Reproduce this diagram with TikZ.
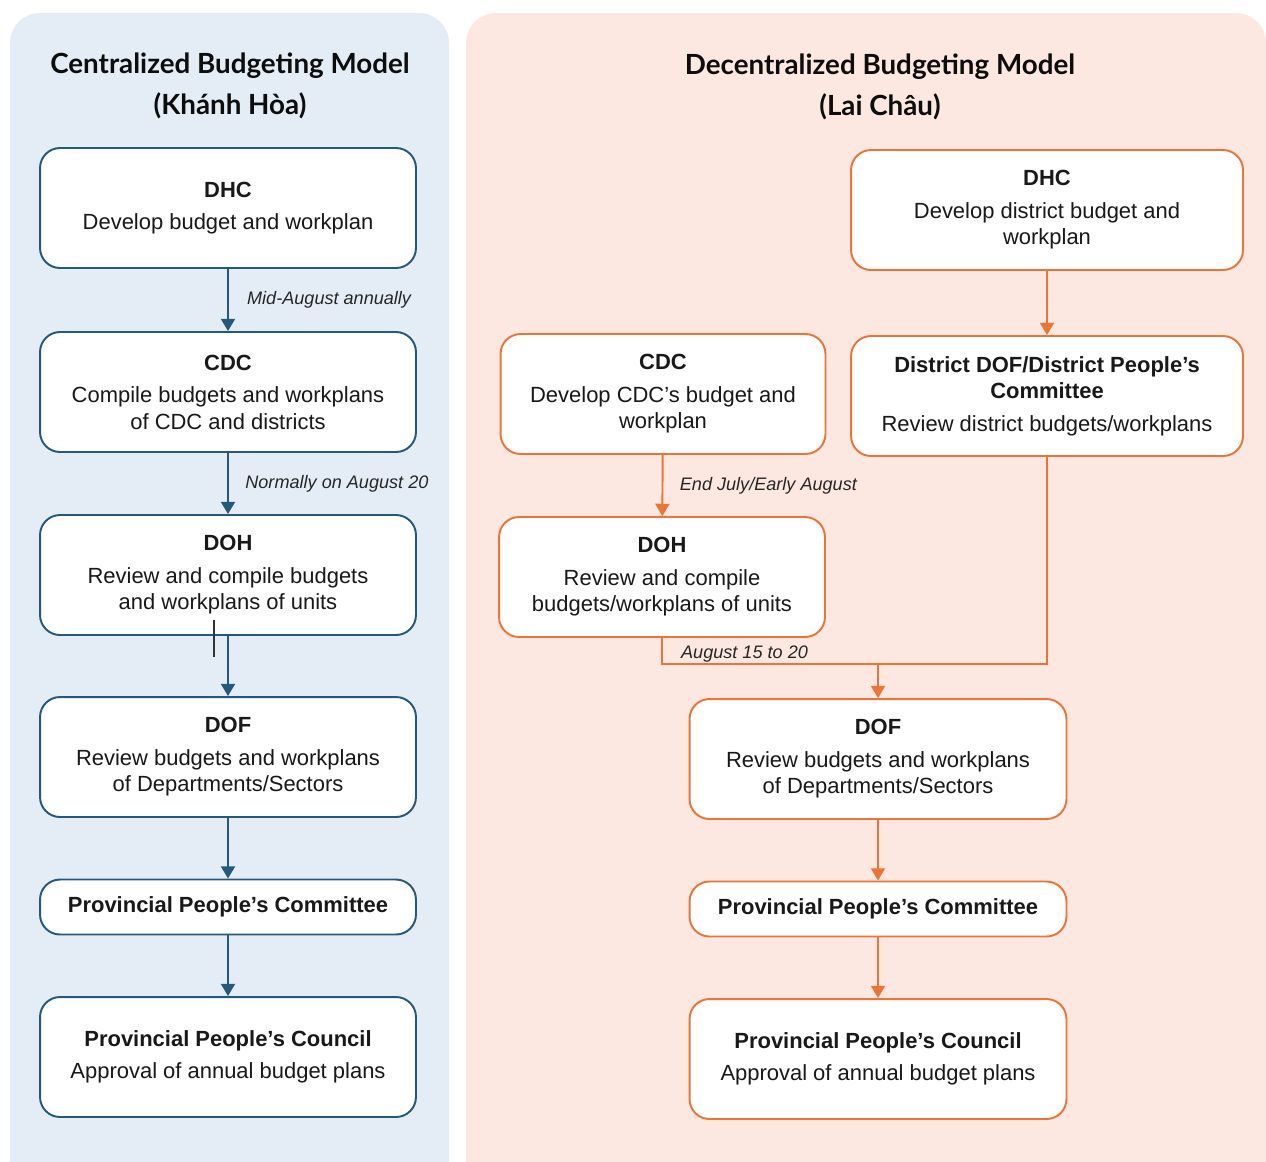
\documentclass[tikz,border=0pt]{standalone}
\usepackage{fontspec}
\setmainfont{Liberation Sans}
\newfontfamily\headfont{Lato}
\usetikzlibrary{arrows.meta,positioning}
\definecolor{bluepanel}{HTML}{E4EDF6}
\definecolor{blueline}{HTML}{22597D}
\definecolor{orangepanel}{HTML}{FCE8E1}
\definecolor{orangeline}{HTML}{EC7535}

\begin{document}
\begin{tikzpicture}[x=0.02cm,y=-0.02cm]
    % Setup the styles for the boxes and arrows
        \tikzset{stage box/.style={draw,
                                   rounded corners=0.4cm,
                                   fill=white,
                                   line width=1.1pt,
                                   align=center,
                                   inner sep=2pt,
                                   minimum height=2.4cm,
                                   text=black!90,
                                   font=\fontsize{12.5}{15}\selectfont},
                 short box/.style={stage box, minimum height=1.1cm},
                 flow/.style={line width=1.1pt,
                              -{Triangle[width=8pt,length=7pt]}},
                 when/.style={font=\fontsize{10.3}{12}\selectfont\itshape,
                              text=black!85},
                 title/.style={font=\headfont\bfseries\fontsize{15.8}{23}\selectfont,
                               align=center, text=black!95}}
        \useasboundingbox (0,0) rectangle (1266,1161);
        % Panels
        \fill[bluepanel, rounded corners=0.6cm] (10,13) rectangle (449,1195);
        \fill[orangepanel, rounded corners=0.6cm] (466,13) rectangle (1266,1195);
        \node[title] (ctitle) at (230,86) {Centralized Budgeting Model\\(Khánh Hòa)};
        \node[title] (dtitle) at (880,87) {Decentralized Budgeting Model\\(Lai Châu)};
        % Centralized model
        \begin{scope}[every node/.append style={draw=blueline, minimum width=7.52cm}]
        \node[stage box] at (228,208) (dhc) {\textbf{DHC}\\[3.5pt]Develop budget and workplan};
        \node[stage box] at (228,392) (cdc) {\textbf{CDC}\\[3.5pt]Compile budgets and workplans\\of CDC and districts};
        \node[stage box] at (228,575) (doh) {\textbf{DOH}\\[3.5pt]Review and compile budgets\\and workplans of units};
        \node[stage box] at (228,757) (dof) {\textbf{DOF}\\[3.5pt]Review budgets and workplans\\of Departments/Sectors};
        \node[short box] at (228,907) (ppc) {\textbf{Provincial People’s Committee}};
        \node[stage box] at (228,1057) (council) {\textbf{Provincial People’s Council}\\[3.5pt]Approval of annual budget plans};
        \end{scope}
        % Decentralized model
        \begin{scope}[every node/.append style={draw=orangeline}]
        \node[stage box, minimum width=7.84cm] at (1047,210) (dhc2) {\textbf{DHC}\\[3.5pt]Develop district budget and\\workplan};
        \node[stage box, minimum width=7.84cm] at (1047,396) (ddof) {\textbf{District DOF/District People’s}\\\textbf{Committee}\\[3.5pt]Review district budgets/workplans};
        \node[stage box, minimum width=6.5cm] at (663,394) (cdc2) {\textbf{CDC}\\[3.5pt]Develop CDC’s budget and\\workplan};
        \node[stage box, minimum width=6.52cm] at (662,577) (doh2) {\textbf{DOH}\\[3.5pt]Review and compile\\budgets/workplans of units};
        \node[stage box, minimum width=7.54cm] at (878,759) (dof2) {\textbf{DOF}\\[3.5pt]Review budgets and workplans\\of Departments/Sectors};
        \node[short box, minimum width=7.54cm] at (878,909) (ppc2) {\textbf{Provincial People’s Committee}};
        \node[stage box, minimum width=7.54cm] at (878,1059) (council2) {\textbf{Provincial People’s Council}\\[3.5pt]Approval of annual budget plans};
        \end{scope}
        \coordinate (join) at (878,664);
        \coordinate (tick top) at (214,620);
        \coordinate (tick end) at (214,657);
        % Connect the boxes with arrows
        \draw[flow, draw=blueline, fill=blueline]
        (dhc) -- node[when, right=7pt]{Mid-August annually} (cdc);
        \draw[flow, draw=blueline, fill=blueline]
        (cdc) -- node[when, right=6pt]{Normally on August 20} (doh);
        \draw[flow, draw=blueline, fill=blueline] (doh) -- (dof);
        \draw[flow, draw=blueline, fill=blueline] (dof) -- (ppc);
        \draw[flow, draw=blueline, fill=blueline] (ppc) -- (council);
        \draw[draw=black!80, line width=0.8pt] (tick top) -- (tick end);
        \draw[flow, draw=orangeline, fill=orangeline] (dhc2) -- (ddof);
        \draw[flow, draw=orangeline, fill=orangeline]
        (cdc2) -- node[when, right=6pt]{End July/Early August} (doh2);
        \draw[draw=orangeline, line width=1.1pt]
        (doh2.south) |- node[when, pos=0.3, right=7pt]{August 15 to 20} (join) -| (ddof.south);
        \draw[flow, draw=orangeline, fill=orangeline] (join) -- (dof2);
        \draw[flow, draw=orangeline, fill=orangeline] (dof2) -- (ppc2);
        \draw[flow, draw=orangeline, fill=orangeline] (ppc2) -- (council2);
\end{tikzpicture}
\end{document}
